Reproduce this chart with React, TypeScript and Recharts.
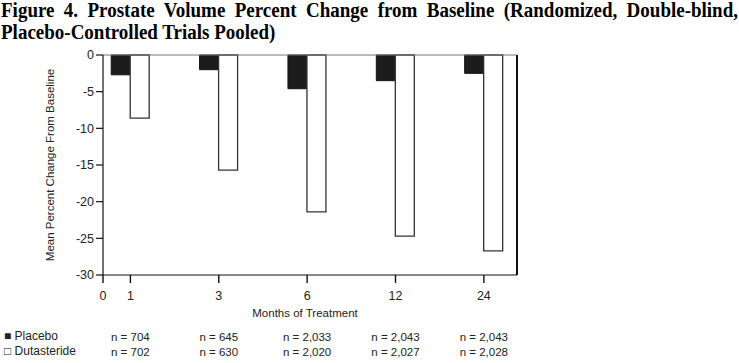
import React from "react";
import { BarChart, Bar, XAxis, YAxis, ReferenceLine } from "recharts";

const months = ["1", "3", "6", "12", "24"];
const placebo = [-2.7, -2.0, -4.6, -3.5, -2.5];
const dutasteride = [-8.6, -15.7, -21.4, -24.7, -26.7];
const placeboN = ["n = 704", "n = 645", "n = 2,033", "n = 2,043", "n = 2,043"];
const dutasterideN = ["n = 702", "n = 630", "n = 2,020", "n = 2,027", "n = 2,028"];
const yTicks = [0, -5, -10, -15, -20, -25, -30];

const data = months.map((m, i) => ({
  pos: i,
  month: m,
  placebo: placebo[i],
  dutasteride: dutasteride[i],
}));

const FONT = "'Liberation Sans', Arial, sans-serif";
const ORIGIN = -0.31;
const X_DOMAIN: [number, number] = [ORIGIN, 4.375];

const MonthTick = (props: any) => {
  const { x, y, payload } = props;
  const v = payload.value as number;
  if (v < 0) {
    return (
      <text x={x} y={y + 15} textAnchor="middle" fontSize={12.5} fill="#222" fontFamily={FONT}>
        0
      </text>
    );
  }
  const i = Math.round(v);
  return (
    <g>
      <text x={x} y={y + 15} textAnchor="middle" fontSize={12.5} fill="#222" fontFamily={FONT}>
        {months[i]}
      </text>
      <text x={x} y={y + 56} textAnchor="middle" fontSize={11.5} fill="#222" fontFamily={FONT}>
        {placeboN[i]}
      </text>
      <text x={x} y={y + 71} textAnchor="middle" fontSize={11.5} fill="#222" fontFamily={FONT}>
        {dutasterideN[i]}
      </text>
    </g>
  );
};

export default function App() {
  return (
    <div style={{ position: "absolute", left: 0, top: 0, width: 739, height: 363, background: "#fff" }}>
      <div
        style={{
          position: "absolute",
          left: 1,
          top: 0,
          width: 737,
          fontFamily: "'Liberation Serif', 'Times New Roman', serif",
          fontWeight: "bold",
          fontSize: 19,
          lineHeight: "20px",
          color: "#000",
          transform: "scaleY(1.08)",
          transformOrigin: "top left",
        }}
      >
        <div style={{ textAlign: "justify", textAlignLast: "justify", whiteSpace: "nowrap", overflow: "visible" }}>
          Figure 4. Prostate Volume Percent Change from Baseline (Randomized, Double-blind,
        </div>
        <div>Placebo-Controlled Trials Pooled)</div>
      </div>
      <BarChart
        width={739}
        height={363}
        data={data}
        margin={{ top: 55, right: 221, left: 0, bottom: 0 }}
        barGap={0}
        style={{ position: "absolute", left: 0, top: 0 }}
      >
        <XAxis
          dataKey="pos"
          type="number"
          domain={X_DOMAIN}
          ticks={[ORIGIN, 0, 1, 2, 3, 4]}
          allowDataOverflow
          height={88}
          tickSize={8}
          tickMargin={2}
          tick={<MonthTick />}
          axisLine={{ stroke: "#111", strokeWidth: 1.2 }}
          tickLine={{ stroke: "#111", strokeWidth: 1.4 }}
          interval={0}
          label={{
            value: "Months of Treatment",
            position: "insideTop",
            offset: 34,
            dx: -5,
            style: { fontSize: 11.5, fill: "#222", fontFamily: FONT },
          }}
        />
        <YAxis
          domain={[-30, 0]}
          ticks={yTicks}
          width={103}
          tickSize={7}
          tickMargin={2}
          interval={0}
          tick={{ fontSize: 12.5, fill: "#222", fontFamily: FONT }}
          axisLine={{ stroke: "#111", strokeWidth: 1.2 }}
          tickLine={{ stroke: "#111", strokeWidth: 1.2 }}
          label={{
            value: "Mean Percent Change From Baseline",
            angle: -90,
            position: "insideLeft",
            offset: 0,
            dx: 50,
            style: { fontSize: 11.5, fill: "#222", fontFamily: FONT, textAnchor: "middle" },
          }}
        />
        <YAxis
          yAxisId="right"
          orientation="right"
          domain={[-30, 0]}
          width={1}
          tick={false}
          tickLine={false}
          axisLine={{ stroke: "#111", strokeWidth: 2 }}
        />
        <ReferenceLine y={0} stroke="#777" strokeWidth={1} />
        <Bar dataKey="placebo" fill="#1c1c1c" stroke="#111" strokeWidth={1} barSize={19} isAnimationActive={false} />
        <Bar dataKey="dutasteride" fill="#fff" stroke="#333" strokeWidth={1.3} barSize={19} isAnimationActive={false} />
      </BarChart>
      <div style={{ position: "absolute", left: 4, top: 329, fontFamily: FONT, fontSize: 12, color: "#222", lineHeight: "14.5px" }}>
        <div>■ Placebo</div>
        <div>□ Dutasteride</div>
      </div>
    </div>
  );
}
